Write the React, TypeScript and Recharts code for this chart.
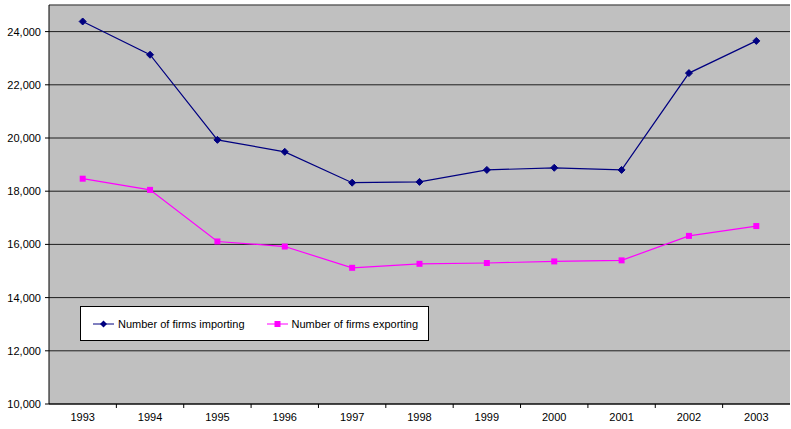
import {
  LineChart,
  Line,
  XAxis,
  YAxis,
  CartesianGrid,
  ReferenceLine,
} from "recharts";

const years = ["1993", "1994", "1995", "1996", "1997", "1998", "1999", "2000", "2001", "2002", "2003"];
const importing = [24380, 23130, 19930, 19480, 18320, 18350, 18800, 18880, 18800, 22440, 23650];
const exporting = [18470, 18050, 16110, 15920, 15120, 15270, 15300, 15360, 15400, 16320, 16690];
const yTicks = [10000, 12000, 14000, 16000, 18000, 20000, 22000, 24000];

const data = years.map((year, i) => ({
  idx: i,
  year,
  importing: importing[i],
  exporting: exporting[i],
}));

const font = "'Liberation Sans', Arial, sans-serif";
const navy = "#000080";
const magenta = "#FF00FF";

const Diamond = (props: any) => {
  const { cx, cy } = props;
  if (cx == null || cy == null) return null;
  const r = 3.5;
  return (
    <polygon
      points={`${cx},${cy - r} ${cx + r},${cy} ${cx},${cy + r} ${cx - r},${cy}`}
      fill={navy}
      stroke={navy}
    />
  );
};

const Square = (props: any) => {
  const { cx, cy } = props;
  if (cx == null || cy == null) return null;
  return <rect x={cx - 3} y={cy - 3} width={6} height={6} fill={magenta} />;
};

const LegendBox = () => (
  <div
    style={{
      position: "absolute",
      left: 80,
      top: 306,
      boxSizing: "border-box",
      width: 349,
      height: 35,
      background: "#fff",
      border: "1px solid #000",
      display: "flex",
      alignItems: "center",
      fontFamily: font,
      fontSize: 11,
      color: "#000",
      paddingLeft: 11,
    }}
  >
    <svg width={24} height={10} style={{ marginRight: 2 }}>
      <line x1={1} y1={5} x2={22} y2={5} stroke={navy} strokeWidth={1} />
      <polygon points="11.5,1.5 15,5 11.5,8.5 8,5" fill={navy} />
    </svg>
    <span>Number of firms importing</span>
    <svg width={24} height={10} style={{ marginLeft: 21, marginRight: 2 }}>
      <line x1={1} y1={5} x2={22} y2={5} stroke={magenta} strokeWidth={1} />
      <rect x={8.5} y={2} width={6} height={6} fill={magenta} />
    </svg>
    <span>Number of firms exporting</span>
  </div>
);

export default function App() {
  return (
    <div style={{ position: "absolute", left: 0, top: 0, width: 791, height: 429, background: "#fff" }}>
      <LineChart
        width={791}
        height={429}
        data={data}
        margin={{ top: 5, right: 1, bottom: 0, left: 0 }}
      >
        <CartesianGrid
          vertical={false}
          fill="#C0C0C0"
          stroke="#000"
          strokeOpacity={0.85}
        />
        <XAxis
          dataKey="idx"
          type="number"
          domain={[-0.5, 10.5]}
          ticks={years.map((_, i) => i)}
          tickFormatter={(i) => years[i]}
          height={25}
          tickLine={false}
          tickSize={4}
          tickMargin={5}
          axisLine={{ stroke: "#000" }}
          tick={{ fontSize: 11, fill: "#000", fontFamily: font }}
        />
        <YAxis
          domain={[10000, 25000]}
          ticks={yTicks}
          width={49}
          tickSize={4}
          tickMargin={4}
          allowDataOverflow
          tickFormatter={(v) => v.toLocaleString("en-US")}
          axisLine={{ stroke: "#000" }}
          tickLine={{ stroke: "#000" }}
          tick={{ fontSize: 11, fill: "#000", fontFamily: font }}
        />
        <ReferenceLine y={25000} stroke="#808080" />
        {years.slice(1).map((_, i) => (
          <ReferenceLine
            key={i}
            segment={[
              { x: i + 0.5, y: 10000 },
              { x: i + 0.5, y: 9850 },
            ]}
            stroke="#000"
            ifOverflow="visible"
          />
        ))}
        <Line
          dataKey="importing"
          stroke={navy}
          strokeWidth={1.2}
          dot={<Diamond />}
          isAnimationActive={false}
        />
        <Line
          dataKey="exporting"
          stroke={magenta}
          strokeWidth={1.2}
          dot={<Square />}
          isAnimationActive={false}
        />
      </LineChart>
      <LegendBox />
    </div>
  );
}
